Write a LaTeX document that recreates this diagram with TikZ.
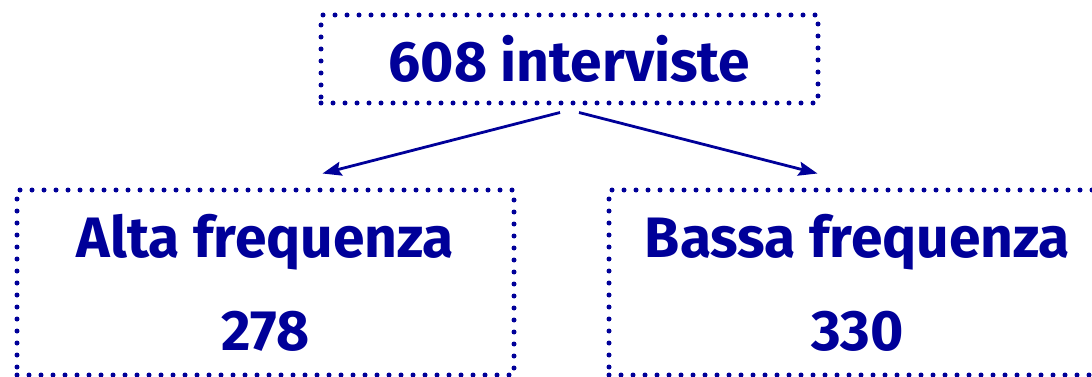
\documentclass[tikz,border=0pt]{standalone}
\usepackage{fontspec}
\setmainfont{Fira Sans}
\usetikzlibrary{arrows.meta,calc}
\definecolor{navy}{RGB}{0,0,153}
\begin{document}
\begin{tikzpicture}[x=1pt,y=-1pt,
  box/.style={draw=navy, line width=5pt, line cap=round, dash pattern=on 0pt off 12pt,
    minimum width=497pt, inner sep=0pt, text=navy,
    font=\bfseries\fontsize{57}{93}\selectfont, align=center},
  arr/.style={draw=navy, line width=2.8pt, -{Stealth[length=19pt,width=14pt,inset=3pt]}}]
\useasboundingbox (0,0) rectangle (1092,377);
\node[box, minimum height=88pt] (top) at (569.5,59) {608 interviste};
\node[box, minimum height=185pt] (left) at (265.5,282.5) {Alta frequenza\\278};
\node[box, minimum height=185pt] (right) at (857.5,282.5) {Bassa frequenza\\330};
\draw[arr] ($(top.south)+(-9.5,7)$) -- ($(left.north)+(57,-14)$);
\draw[arr] ($(top.south)+(9.5,7)$) -- ($(right.north)+(-40,-14)$);
\end{tikzpicture}
\end{document}
